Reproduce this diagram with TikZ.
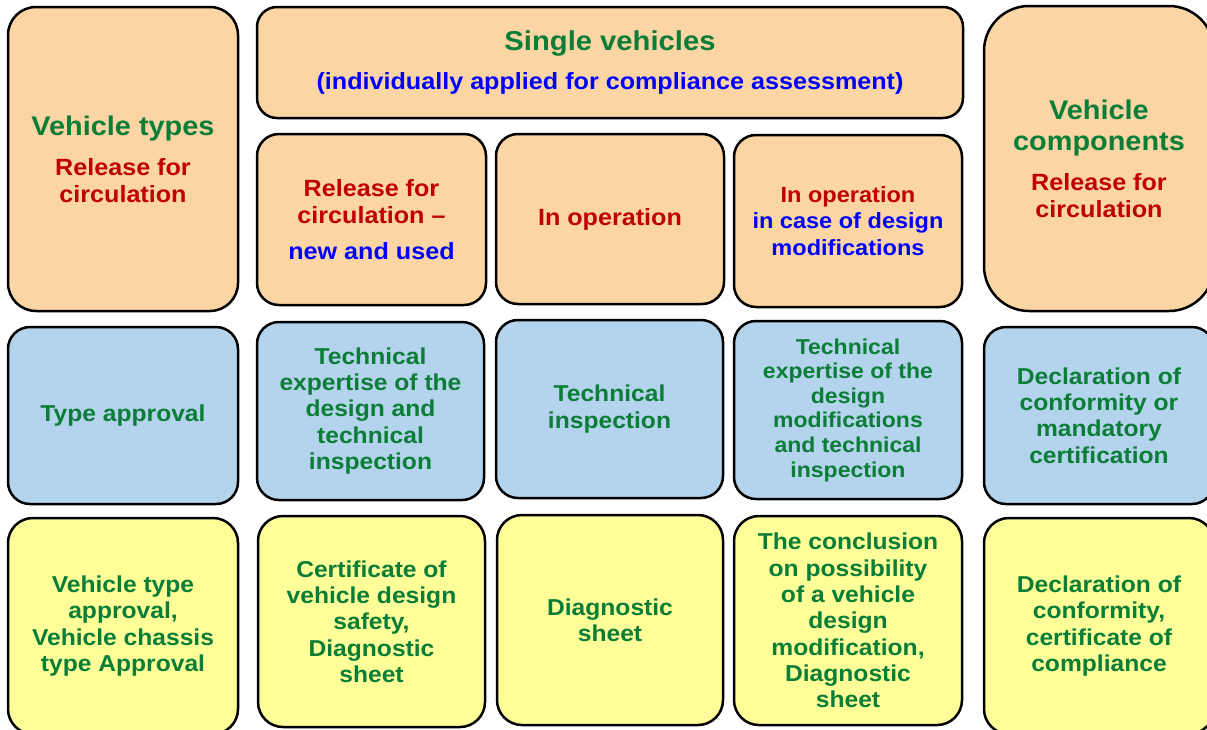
\documentclass[tikz,border=0pt]{standalone}
\usepackage{fontspec}
\setmainfont{Liberation Sans}[FakeStretch=1.07]
\definecolor{peachc}{RGB}{252,213,165}
\definecolor{bluec}{RGB}{180,211,236}
\definecolor{yellc}{RGB}{255,255,153}
\definecolor{grn}{RGB}{10,125,55}
\definecolor{redc}{RGB}{192,0,0}
\definecolor{bluet}{RGB}{0,0,255}
\newcommand\HdF{\fontsize{27}{31}\selectfont\color{grn}}
\newcommand\RdT{\color{redc}}
\newcommand\BlT{\color{bluet}}
\tikzset{
  box/.style={draw=black, line width=2.5pt, rounded corners=22pt, align=center,
    inner sep=0pt, text=grn, font=\fontsize{23}{26.3}\selectfont\bfseries},
  headfont/.style={font=\fontsize{23.5}{27}\selectfont\bfseries},
  peachbox/.style={box, fill=peachc, headfont},
  bluebox/.style={box, fill=bluec},
  yellbox/.style={box, fill=yellc},
}
\begin{document}
\begin{tikzpicture}[x=1pt,y=-1pt]
\useasboundingbox (0,0) rectangle (1207,729);
% row 1
\node[peachbox, rounded corners=28pt, minimum width=230pt, minimum height=304pt] (vt) at (123,159)
  {\HdF Vehicle types\\[13pt]\RdT Release for\\\RdT circulation};
\node[peachbox, rounded corners=20pt, minimum width=706pt, minimum height=111pt] (sv) at (610,62.5)
  {\fontsize{27.3}{32}\selectfont\color{grn}Single vehicles\\[12pt]\BlT (individually applied for compliance assessment)};
\node[peachbox, minimum width=229pt, minimum height=171pt] (rc) at (371.5,219.5)
  {\RdT Release for\\\RdT circulation –\\[9pt]\BlT new and used};
\node[peachbox, minimum width=228pt, minimum height=170pt] (io) at (610,219)
  {\RdT In operation};
\node[peachbox, minimum width=228pt, minimum height=172pt, font=\fontsize{22}{26.5}\selectfont\bfseries] (iod) at (848,221)
  {\RdT In operation\\\BlT in case of design\\\BlT modifications};
\node[peachbox, rounded corners=45pt, minimum width=230pt, minimum height=305pt] (vc) at (1099,158.5)
  {\HdF Vehicle\\[4pt]\HdF components\\[13pt]\RdT Release for\\\RdT circulation};
% row 2
\node[bluebox, minimum width=230pt, minimum height=177pt] (ta) at (123,415.5) {Type approval};
\node[bluebox, minimum width=227pt, minimum height=178pt] (te) at (370.5,411)
  {Technical\\expertise of the\\design and\\technical\\inspection};
\node[bluebox, minimum width=227pt, minimum height=178pt] (ti) at (609.5,409)
  {Technical\\inspection};
\node[bluebox, minimum width=228pt, minimum height=178pt, font=\fontsize{21.5}{24.6}\selectfont\bfseries] (tem) at (848,410)
  {Technical\\expertise of the\\design\\modifications\\and technical\\inspection};
\node[bluebox, minimum width=230pt, minimum height=177pt] (doc) at (1099,415.5)
  {Declaration of\\conformity or\\mandatory\\certification};
% row 3
\node[yellbox, rounded corners=25pt, minimum width=230pt, minimum height=216pt] (vta) at (123,626)
  {Vehicle type\\approval,\\Vehicle chassis\\type Approval};
\node[yellbox, rounded corners=25pt, minimum width=227pt, minimum height=211pt] (cert) at (371.5,621.5)
  {Certificate of\\vehicle design\\safety,\\Diagnostic\\sheet};
\node[yellbox, rounded corners=25pt, minimum width=226pt, minimum height=210pt] (diag) at (610,620)
  {Diagnostic\\sheet};
\node[yellbox, rounded corners=25pt, minimum width=228pt, minimum height=209pt] (concl) at (848,620.5)
  {The conclusion\\on possibility\\of a vehicle\\design\\modification,\\Diagnostic\\sheet};
\node[yellbox, rounded corners=25pt, minimum width=230pt, minimum height=216pt] (docc) at (1099,626)
  {Declaration of\\conformity,\\certificate of\\compliance};
\end{tikzpicture}
\end{document}
